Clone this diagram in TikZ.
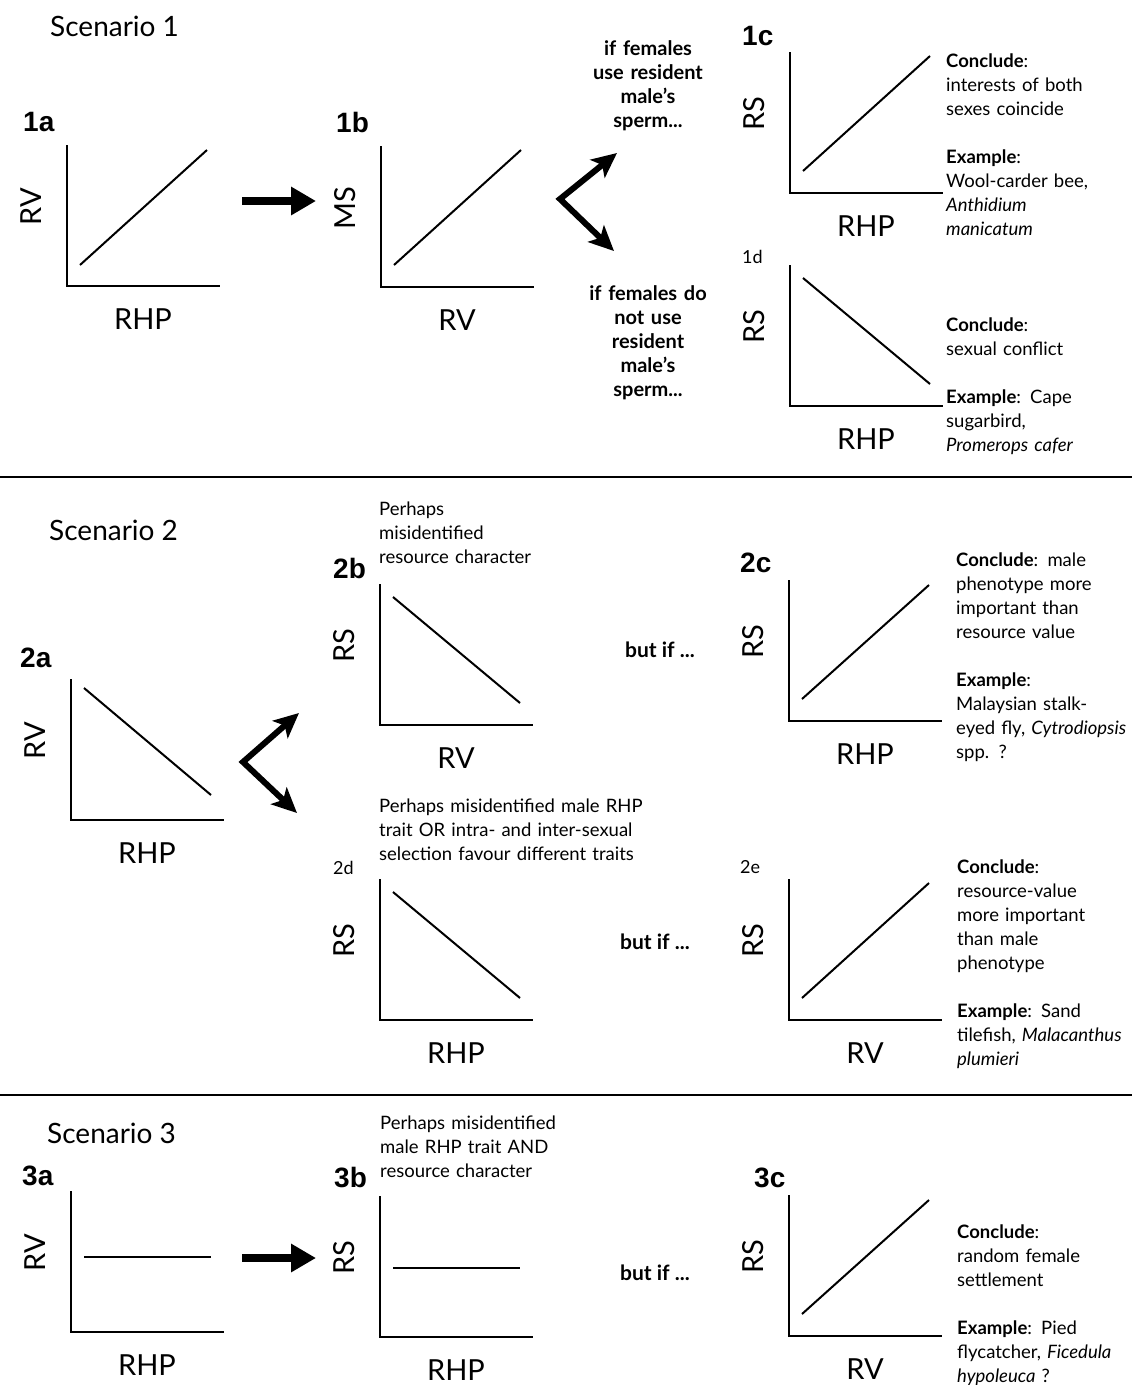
\documentclass[tikz,border=0pt]{standalone}
\usepackage{fontspec}
\setmainfont{Lato}
\newfontfamily\tagfont{Liberation Sans}
\usetikzlibrary{arrows.meta}

\tikzset{
  axes/.style={line width=2.6pt},
  trend/.style={line width=2pt},
  axlabel/.style={font=\fontsize{29}{30}\selectfont, inner sep=0pt},
  tag/.style={font=\tagfont\bfseries\fontsize{28}{30}\selectfont, anchor=west, inner sep=0pt},
  smalltag/.style={font=\fontsize{18}{20}\selectfont, anchor=west, inner sep=0pt},
  scen/.style={font=\fontsize{28}{30}\selectfont, anchor=west, inner sep=0pt},
  note/.style={font=\fontsize{18.5}{24}\selectfont, text width=240pt, align=left, anchor=base west, inner sep=0pt},
  ifnote/.style={font=\bfseries\fontsize{20}{24}\selectfont, text width=170pt, align=center, anchor=base, inner sep=0pt},
  butif/.style={font=\bfseries\fontsize{21}{24}\selectfont, inner sep=0pt},
  fatarrow/.style={line width=8pt, -{Triangle[length=25pt,width=27pt]}},
  forkarrow/.style={line width=6pt, line join=miter,
    {Stealth[length=25pt,width=23pt,inset=6pt]}-{Stealth[length=25pt,width=23pt,inset=6pt]}},
  sep/.style={line width=2.5pt}
}

\begin{document}
\begin{tikzpicture}[x=1pt, y=-1pt]
  \useasboundingbox (0,0) rectangle (1132,1385);

  \foreach \p/\ox/\oy/\ya/\yb/\yl/\xl in {
      1a/67/286/-21/-136/RV/RHP,
      1b/381/287/-22/-137/MS/RV,
      1c/790/193/-22/-137/RS/RHP,
      1d/790/406/-128/-22/RS/RHP,
      2a/71/820/-132/-25/RV/RHP,
      2b/380/725/-128/-22/RS/RV,
      2c/789/721/-22/-136/RS/RHP,
      2d/380/1020/-128/-22/RS/RHP,
      2e/789/1020/-22/-137/RS/RV,
      3a/71/1332/-75/-75/RV/RHP,
      3b/380/1337/-69/-69/RS/RHP,
      3c/789/1336/-22/-136/RS/RV}{
    \begin{scope}[shift={(\ox,\oy)}]
      \draw[axes] (0,-141) -- (0,0) -- (153,0);
      \draw[trend] (13,\ya) -- (140,\yb);
      \node[axlabel, rotate=90] (ylab\p) at (-36,-79) {\yl};
      \node[axlabel] (xlab\p) at (76,33) {\xl};
    \end{scope}
  }

  % scenario 1
  \node[scen] (scen1) at (50,26) {Scenario 1};
  \node[tag] (tag1a) at (23,122) {1a};
  \node[tag] (tag1b) at (336,122) {1b};
  \node[tag] (tag1c) at (742,36) {1c};
  \node[smalltag] (tag1d) at (742,257) {1d};

  \coordinate (arr1s) at (242,201);
  \coordinate (arr1e) at (316,201);
  \draw[fatarrow] (arr1s) -- (arr1e);

  \coordinate (fork1) at (560,199);
  \coordinate (fork1up) at (617,153);
  \coordinate (fork1dn) at (614,251);
  \draw[forkarrow] (fork1up) -- (fork1) -- (fork1dn);

  \node[ifnote] (use1) at (648,55) {if females\\ use resident\\ male’s\\ sperm...};
  \node[ifnote] (notuse1) at (648,300) {if females do\\ not use\\ resident\\ male’s\\ sperm...};

  \node[note] (concl1c) at (946,67) {\textbf{Conclude}:\\ interests of both\\ sexes coincide\\[24pt]
    \textbf{Example}:\\ Wool-carder bee,\\ \textit{Anthidium}\\ \textit{manicatum}};
  \node[note] (concl1d) at (946,331) {\textbf{Conclude}:\\ sexual conflict\\[24pt]
    \textbf{Example}: Cape\\ sugarbird,\\ \textit{Promerops cafer}};

  \draw[sep] (0,477) -- (1132,477);

  % scenario 2
  \node[scen] (scen2) at (49,530) {Scenario 2};
  \node[tag] (tag2a) at (20,658) {2a};
  \node[tag] (tag2b) at (333,568) {2b};
  \node[tag] (tag2c) at (740,563) {2c};
  \node[smalltag] (tag2d) at (333,868) {2d};
  \node[smalltag] (tag2e) at (740,867) {2e};

  \coordinate (fork2) at (243,762);
  \coordinate (fork2up) at (299,713);
  \coordinate (fork2dn) at (297,813);
  \draw[forkarrow] (fork2up) -- (fork2) -- (fork2dn);

  \node[note] (why2b) at (379,515) {Perhaps\\ misidentified\\ resource character};
  \node[note, text width=320pt] (why2d) at (379,812) {Perhaps misidentified male RHP\\
    trait OR intra- and inter-sexual\\ selection favour different traits};

  \node[butif] (but2b) at (660,650) {but if ...};
  \node[butif] (but2d) at (655,942) {but if ...};

  \node[note] (concl2c) at (956,566) {\textbf{Conclude}: male\\ phenotype more\\ important than\\ resource value\\[24pt]
    \textbf{Example}:\\ Malaysian stalk-\\ eyed fly, \textit{Cytrodiopsis}\\ spp. ?};
  \node[note] (concl2e) at (957,873) {\textbf{Conclude}:\\ resource-value\\ more important\\ than male\\ phenotype\\[24pt]
    \textbf{Example}: Sand\\ tilefish, \textit{Malacanthus}\\ \textit{plumieri}};

  \draw[sep] (0,1095) -- (1132,1095);

  % scenario 3
  \node[scen] (scen3) at (47,1133) {Scenario 3};
  \node[tag] (tag3a) at (22,1176) {3a};
  \node[tag] (tag3b) at (334,1177) {3b};
  \node[tag] (tag3c) at (754,1178) {3c};

  \coordinate (arr3s) at (242,1258);
  \coordinate (arr3e) at (316,1258);
  \draw[fatarrow] (arr3s) -- (arr3e);

  \node[note] (why3b) at (380,1129) {Perhaps misidentified\\ male RHP trait AND\\ resource character};
  \node[butif] (but3b) at (655,1273) {but if ...};

  \node[note] (concl3c) at (957,1238) {\textbf{Conclude}:\\ random female\\ settlement\\[24pt]
    \textbf{Example}: Pied\\ flycatcher, \textit{Ficedula}\\ \textit{hypoleuca} ?};
\end{tikzpicture}
\end{document}
